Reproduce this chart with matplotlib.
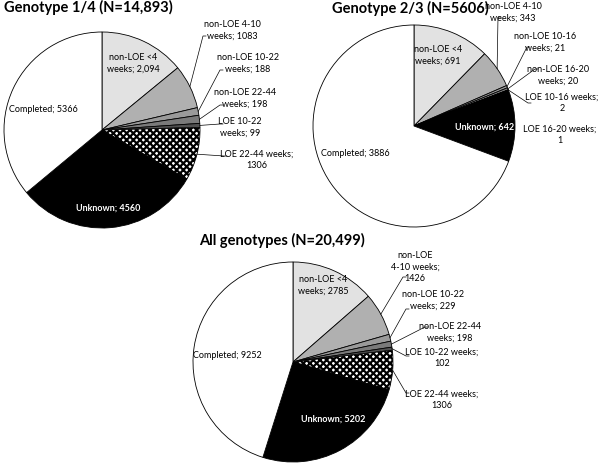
import matplotlib
matplotlib.use("Agg")
import matplotlib.pyplot as plt
import numpy as np

plt.rcParams['font.family'] = ['Lato', 'DejaVu Sans']
plt.rcParams['hatch.linewidth'] = 1.6

W, H = 600, 465

cats1 = ["non-LOE <4 weeks", "non-LOE 4-10 weeks", "non-LOE 10-22 weeks", "non-LOE 22-44 weeks",
         "LOE 10-22 weeks", "LOE 22-44 weeks", "Unknown", "Completed"]
vals1 = [2094, 1083, 188, 198, 99, 1306, 4560, 5366]
labels1 = ["non-LOE <4\nweeks; 2,094", "non-LOE 4-10\nweeks; 1083", "non-LOE 10-22\nweeks; 188",
           "non-LOE 22-44\nweeks; 198", "LOE 10-22\nweeks; 99", "LOE 22-44 weeks;\n1306",
           "Unknown; 4560", "Completed; 5366"]

cats2 = ["non-LOE <4 weeks", "non-LOE 4-10 weeks", "non-LOE 10-16 weeks", "non-LOE 16-20 weeks",
         "LOE 10-16 weeks", "LOE 16-20 weeks", "Unknown", "Completed"]
vals2 = [691, 343, 21, 20, 2, 1, 642, 3886]
labels2 = ["non-LOE <4\nweeks; 691", "non-LOE 4-10\nweeks; 343", "non-LOE 10-16\nweeks; 21",
           "non-LOE 16-20\nweeks; 20", "LOE 10-16 weeks;\n2", "LOE 16-20 weeks;\n1",
           "Unknown; 642", "Completed; 3886"]

cats3 = cats1
vals3 = [2785, 1426, 229, 198, 102, 1306, 5202, 9252]
labels3 = ["non-LOE <4\nweeks; 2785", "non-LOE\n4-10 weeks;\n1426", "non-LOE 10-22\nweeks; 229",
           "non-LOE 22-44\nweeks; 198", "LOE 10-22 weeks;\n102", "LOE 22-44 weeks;\n1306",
           "Unknown; 5202", "Completed; 9252"]

titles = ["Genotype 1/4 (N=14,893)", "Genotype 2/3 (N=5606)", "All genotypes (N=20,499)"]

colors = ["#e2e2e2", "#b0b0b0", "#9a9a9a", "#7a7a7a", "#505050", "white", "black", "white"]
hatches = [None, None, None, None, None, "xxxxx", None, None]

fig = plt.figure(figsize=(W / 100, H / 100), dpi=100)
ax = fig.add_axes([0, 0, 1, 1])
ax.set_xlim(0, W)
ax.set_ylim(0, H)
ax.set_aspect('equal')
ax.axis('off')


def Y(y):
    return H - y


def draw(vals, labels, title, center, radius, title_pos, label_pos, leaders):
    cx, cy = center
    wedges, _ = ax.pie(vals, colors=colors, startangle=90, counterclock=False,
                       center=(cx, Y(cy)), radius=radius, frame=True,
                       wedgeprops=dict(edgecolor='black', linewidth=0.6))
    for w, h in zip(wedges, hatches):
        if h:
            w.set_hatch(h)
            w.set_edgecolor('black')
    ax.text(title_pos[0], Y(title_pos[1]), title, fontsize=10.5, fontweight='bold',
            ha='center', va='center')
    for i, (lab, pos) in enumerate(zip(labels, label_pos)):
        col = 'white' if i == 6 else 'black'
        ax.text(pos[0], Y(pos[1]), lab, fontsize=6.5, ha='center', va='center',
                color=col, linespacing=1.35, fontweight='bold' if i == 6 else 'normal')
        if leaders[i] is not None:
            w = wedges[i]
            mid = np.deg2rad((w.theta1 + w.theta2) / 2)
            sx = cx + radius * np.cos(mid)
            sy = Y(cy) + radius * np.sin(mid)
            ex, ey = leaders[i]
            ax.plot([sx, ex, ex + 3], [sy, Y(ey), Y(ey)], color='black', lw=0.5)


draw(vals1, labels1, titles[0], (102, 130), 98, (88, 7),
     [(133, 63), (232, 30), (248, 63), (245, 98), (240, 127), (257, 160), (108, 208), (43, 110)],
     [None, (203, 36), (220, 70), (220, 105), (220, 124), (224, 156), None, None])

draw(vals2, labels2, titles[1], (414, 126), 101, (410, 8),
     [(438, 55), (513, 12), (545, 42), (558, 75), (562, 103), (560, 135), (485, 127), (355, 154)],
     [None, (498, 17), (527, 47), (535, 69), (528, 103), None, None, None])

draw(vals3, labels3, titles[2], (293, 362), 100, (282, 240),
     [(323, 285), (415, 267), (433, 300), (450, 332), (442, 358), (442, 400), (333, 419), (227, 355)],
     [None, (403, 277), (406, 309), (425, 327), (406, 356), (406, 393), None, None])

ax.set_xlim(0, W)
ax.set_ylim(0, H)
ax.axis('off')

fig.savefig("out.png", dpi=100)
